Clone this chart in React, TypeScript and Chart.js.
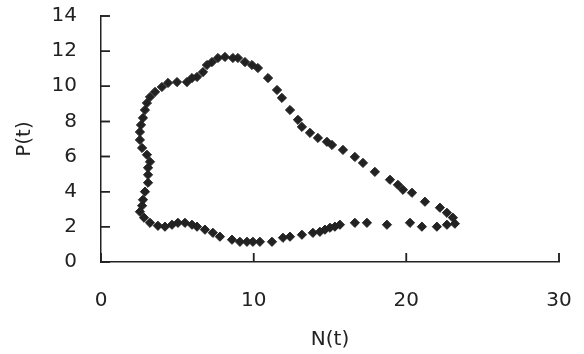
import React, { useEffect, useRef } from "react";
import { Chart, registerables } from "chart.js";

Chart.register(...registerables);

// N(t) (prey) and P(t) (predator) values
const nValues: number[] = [
  3.21, 3.73, 4.19, 4.65, 5.04, 5.5, 5.96, 6.29, 6.81, 7.33, 7.79, 8.58, 9.1, 9.56, 9.95, 10.41, 11.2,
  11.92, 12.38, 13.16, 13.88, 14.34, 14.67, 15.0, 15.32, 15.65, 16.63, 17.42, 18.73, 20.24, 21.02, 22.0,
  22.66, 23.18, 23.05, 22.66, 22.2, 21.22, 20.37, 19.78, 19.45, 18.93, 17.94, 17.16, 16.63, 15.85, 15.13,
  14.8, 14.21, 13.69, 13.16, 12.9, 12.38, 11.85, 11.53, 10.94, 10.28, 9.89, 9.43, 8.97, 8.64, 8.12, 7.66,
  7.27, 6.94, 6.68, 6.29, 5.96, 5.63, 4.98, 4.39, 3.99, 3.54, 3.21, 3.01, 2.88, 2.75, 2.62, 2.55, 2.55,
  2.69, 3.01, 3.21, 3.08, 3.08, 3.08, 2.88, 2.75, 2.69, 2.55, 2.82,
];
const pValues: number[] = [
  2.23, 2.06, 2.01, 2.12, 2.23, 2.23, 2.12, 2.01, 1.84, 1.66, 1.44, 1.27, 1.15, 1.15, 1.15, 1.15, 1.15,
  1.38, 1.44, 1.55, 1.66, 1.72, 1.84, 1.95, 2.01, 2.12, 2.23, 2.23, 2.12, 2.23, 2.01, 2.01,
  2.12, 2.18, 2.52, 2.8, 3.09, 3.43, 3.94, 4.11, 4.39, 4.68, 5.13, 5.64, 5.98, 6.38, 6.66,
  6.84, 7.06, 7.35, 7.69, 8.09, 8.65, 9.34, 9.79, 10.47, 11.04, 11.21, 11.38, 11.61, 11.61, 11.67, 11.61,
  11.38, 11.21, 10.81, 10.53, 10.47, 10.24, 10.24, 10.19, 9.96, 9.68, 9.39, 9.05, 8.65, 8.2, 7.8, 7.4, 6.95,
  6.49, 6.1, 5.7, 5.36, 4.96, 4.51, 4.0, 3.54, 3.2, 2.86, 2.52,
];

const xTickValues: number[] = [0, 10, 20, 30];
const yTickValues: number[] = [0, 2, 4, 6, 8, 10, 12, 14];

const FONT = "'DejaVu Sans', Verdana, sans-serif";
const INK = "#222222";

function drawInnerTicks(chart: any) {
  const ctx = chart.ctx;
  const area = chart.chartArea;
  const xs = chart.scales["x"];
  const ys = chart.scales["y"];
  if (!ctx || !area || !xs || !ys) return;
  const len = 9;
  ctx.save();
  ctx.strokeStyle = INK;
  ctx.lineWidth = 1.5;
  ctx.beginPath();
  for (let i = 0; i < yTickValues.length; i++) {
    const y = ys.getPixelForValue(yTickValues[i]);
    ctx.moveTo(area.left, y);
    ctx.lineTo(area.left + len, y);
  }
  for (let i = 0; i < xTickValues.length; i++) {
    const x = xs.getPixelForValue(xTickValues[i]);
    ctx.moveTo(x, area.bottom);
    ctx.lineTo(x, area.bottom - len);
  }
  ctx.stroke();
  ctx.restore();
}

const innerTicks = {
  id: "innerTicksPlugin",
  afterDatasetsDraw(chart: any) {
    drawInnerTicks(chart);
  },
};

export default function App() {
  const ref = useRef<HTMLCanvasElement | null>(null);

  useEffect(() => {
    if (!ref.current) return;
    const points = nValues.map((n, i) => ({ x: n, y: pValues[i] }));
    const chart = new Chart(ref.current, {
      type: "scatter",
      data: {
        datasets: [
          {
            data: points,
            pointStyle: "rectRot",
            pointRadius: 4.6,
            pointBorderWidth: 1,
            backgroundColor: INK,
            borderColor: INK,
          },
        ],
      },
      options: {
        animation: false,
        responsive: false,
        maintainAspectRatio: false,
        layout: { padding: { top: 16, right: 25, left: 0, bottom: 0 } },
        plugins: { legend: { display: false }, tooltip: { enabled: false } },
        scales: {
          x: {
            type: "linear",
            min: 0,
            max: 30,
            afterBuildTicks: (s: any) => {
              s.ticks = xTickValues.map((v) => ({ value: v }));
            },
            afterFit: (s: any) => {
              s.height = 92;
              s.paddingLeft = 0;
              s.paddingRight = 0;
            },
            grid: { display: false, drawTicks: false },
            border: { display: true, color: INK, width: 1.5 },
            ticks: {
              color: INK,
              padding: 27,
              font: { family: FONT, size: 20 },
              maxRotation: 0,
            },
            title: {
              display: true,
              text: "N(t)",
              color: INK,
              font: { family: FONT, size: 20 },
              padding: { top: 0, bottom: 2 },
            },
          },
          y: {
            type: "linear",
            min: 0,
            max: 14,
            afterBuildTicks: (s: any) => {
              s.ticks = yTickValues.map((v) => ({ value: v }));
            },
            afterFit: (s: any) => {
              s.width = 101;
              s.paddingTop = 0;
              s.paddingBottom = 0;
            },
            grid: { display: false, drawTicks: false },
            border: { display: true, color: INK, width: 1.5 },
            ticks: {
              color: INK,
              padding: 24,
              font: { family: FONT, size: 20 },
            },
            title: {
              display: true,
              text: "P(t)",
              color: INK,
              font: { family: FONT, size: 20 },
              padding: { top: 13, bottom: 0 },
            },
          },
        },
      },
      plugins: [innerTicks],
    });
    drawInnerTicks(chart);
    return () => chart.destroy();
  }, []);

  return (
    <div style={{ position: "fixed", left: 0, top: 0, width: 584, height: 354, background: "#fff" }}>
      <canvas ref={ref} width={584} height={354} style={{ width: 584, height: 354, display: "block" }} />
    </div>
  );
}
